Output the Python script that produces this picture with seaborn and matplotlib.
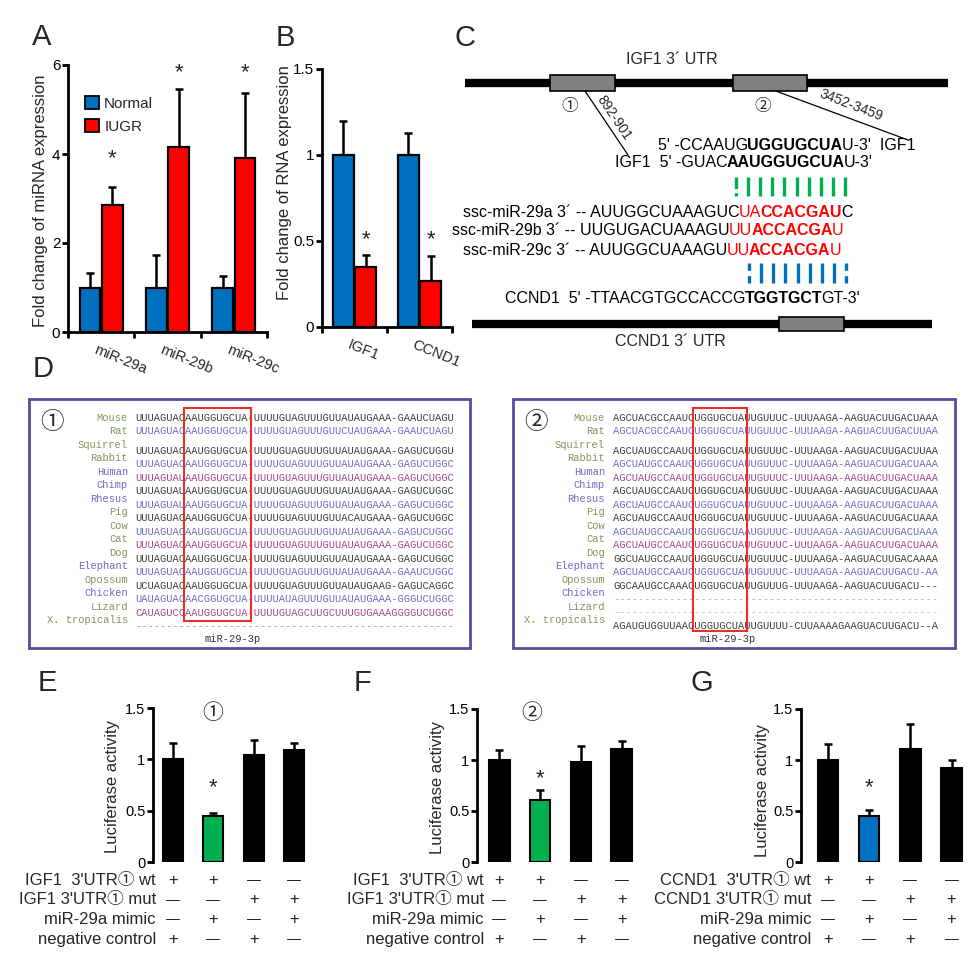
import numpy as np
import pandas as pd
import matplotlib
matplotlib.use("Agg")
import matplotlib.pyplot as plt
import matplotlib.transforms as mtransforms
from matplotlib.patches import Rectangle, Patch
import seaborn as sns

sns.set_style("ticks")
plt.rcParams["font.family"] = ["Liberation Sans", "Noto Sans CJK SC", "DejaVu Sans"]

# ---------------- data ----------------
mirnas = ["miR-29a", "miR-29b", "miR-29c"]
groups = ["Normal", "IUGR"]
mirna_normal = [1.0, 1.0, 1.0]
mirna_normal_err = [0.32, 0.72, 0.25]
mirna_iugr = [2.85, 4.15, 3.92]
mirna_iugr_err = [0.40, 1.32, 1.45]

genes = ["IGF1", "CCND1"]
rna_normal = [1.0, 1.0]
rna_normal_err = [0.20, 0.13]
rna_iugr = [0.35, 0.27]
rna_iugr_err = [0.07, 0.14]

luc_conditions = ["c1", "c2", "c3", "c4"]
lucE = [1.00, 0.45, 1.04, 1.09]
lucE_err = [0.16, 0.03, 0.15, 0.07]
lucF = [1.00, 0.61, 0.98, 1.11]
lucF_err = [0.10, 0.10, 0.16, 0.08]
lucG = [1.00, 0.45, 1.11, 0.92]
lucG_err = [0.16, 0.06, 0.24, 0.08]

rowsE = ["IGF1  3'UTR\u2460 wt", "IGF1 3'UTR\u2460 mut", "miR-29a mimic", "negative control"]
rowsG = ["CCND1  3'UTR\u2460 wt", "CCND1 3'UTR\u2460 mut", "miR-29a mimic", "negative control"]
row_signs = [["+", "+", "\u2014", "\u2014"],
             ["\u2014", "\u2014", "+", "+"],
             ["\u2014", "+", "\u2014", "+"],
             ["+", "\u2014", "+", "\u2014"]]

species = ["Mouse", "Rat", "Squirrel", "Rabbit", "Human", "Chimp", "Rhesus", "Pig",
           "Cow", "Cat", "Dog", "Elephant", "Opossum", "Chicken", "Lizard", "X. tropicalis"]
label_kind = ["g", "g", "g", "g", "b", "b", "b", "g", "g", "g", "g", "b", "g", "b", "g", "g"]
seq_kind1 = ["d", "b", "d", "b", "m", "d", "b", "d", "b", "m", "d", "b", "d", "b", "m", "x"]
seq_kind2 = ["d", "b", "d", "b", "m", "d", "b", "d", "b", "m", "d", "b", "d", "lb", "lm", "d"]
site1 = [
    "UUUAGUACAAUGGUGCUA-UUUUGUAGUUUGUUAUAUGAAA-GAAUCUAGU",
    "UUUAGUACAAUGGUGCUA-UUUUGUAGUUUGUUCUAUGAAA-GAAUCUAGU",
    "UUUAGUACAAUGGUGCUA-UUUUGUAGUUUGUUAUAUGAAA-GAGUCUGGU",
    "UUUAGUACAAUGGUGCUA-UUUUGUAGUUUGUUAUAUGAAA-GAGUCUGGC",
    "UUUAGUAUAAUGGUGCUA-UUUUGUAGUUUGUUAUAUGAAA-GAGUCUGGC",
    "UUUAGUAUAAUGGUGCUA-UUUUGUAGUUUGUUAUAUGAAA-GAGUCUGGC",
    "UUUAGUAUAAUGGUGCUA-UUUUGUAGUUUGUUAUAUGAAA-GAGUCUGGC",
    "UUUAGUACAAUGGUGCUA-UUUUGUAGUUUGUUACAUGAAA-GAGUCUGGC",
    "UUUAGUACAAUGGUGCUA-UUUUGUAGUUUGUUAUAUGAAA-GAGUCUGGC",
    "UUUAGUACAAUGGUGCUA-UUUUGUAGUUUGUUAUAUGAAA-GAGUCUGGC",
    "UUUAGUACAAUGGUGCUA-UUUUGUAGUUUGUUAUAUGAAA-GAGUCUGGC",
    "UUUAGUACAAUGGUGCUA-UUUUGUAGUUUGUUAUAUGAAA-GAAUCUGGC",
    "UCUAGUACAAUGGUGCUA-UUUUGUAGUUUGUUAUAUGAAG-GAGUCAGGC",
    "UAUAGUACAACGGUGCUA-UUUUAUAGUUUGUUAUAUGAAA-GGGUCUGGC",
    "CAUAGUCCAAUGGUGCUA-UUUUGUAGCUUGCUUUGUGAAAGGGGUCUGGC",
    "---------------------------------------------------",
]
site2 = [
    "AGCUACGCCAAUCUGGUGCUAUUGUUUC-UUUAAGA-AAGUACUUGACUAAA",
    "AGCUACGCCAAUCUGGUGCUAUUGUUUC-UUUAAGA-AAGUACUUGACUUAA",
    "AGCUAUGCCAAUCUGGUGCUAUUGUUUC-UUUAAGA-AAGUACUUGACUUAA",
    "AGCUAUGCCAAUCUGGUGCUAUUGUUUC-UUUAAGA-AAGUACUUGACUAAA",
    "AGCUAUGCCAAUCUGGUGCUAUUGUUUC-UUUAAGA-AAGUACUUGACUAAA",
    "AGCUAUGCCAAUCUGGUGCUAUUGUUUC-UUUAAGA-AAGUACUUGACUAAA",
    "AGCUAUGCCAAUCUGGUGCUAUUGUUUC-UUUAAGA-AAGUACUUGACUAAA",
    "AGCUAUGCCAAUCUGGUGCUAUUGUUUC-UUUAAGA-AAGUACUUGACUAAA",
    "AGCUAUGCCAAUCUGGUGCUAAUGUUUC-UUUAAGA-AAGUACUUGACUAAA",
    "AGCUAUGCCAAUCUGGUGCUAUUGUUUC-UUUAAGA-AAGUACUUGACUAAA",
    "GGCUAUGCCAAUCUGGUGCUAUUGUUUC-UUUAAGA-AAGUACUUGACAAAA",
    "AGCUAUGCCAAUCUGGUGCUAUUGUUUC-UUUAAGA-AAGUACUUGACU-AA",
    "GGCAAUGCCAAACUGGUGCUAUUGUUUG-UUUAAGA-AAGUACUUGACU---",
    "----------------------------------------------------",
    "----------------------------------------------------",
    "AGAUGUGGUUAACUGGUGCUAUUGUUUU-CUUAAAAGAAGUACUUGACU--A",
]

BLUE = "#0070C0"
RED = "#FF0000"
GREEN = "#00B050"
LAB = {"g": "#7e9660", "b": "#6b6bc4"}
SEQ = {"d": "#3c3c3c", "b": "#6b6bc4", "m": "#a2478f", "x": "#9a9a9a",
       "lb": "#a9a9dd", "lm": "#d9a9d2"}

W, H = 977, 964
fig = plt.figure(figsize=(W / 100, H / 100), dpi=100)

ov = fig.add_axes([0, 0, 1, 1])
ov.set_xlim(0, W)
ov.set_ylim(H, 0)
ov.axis("off")


def rect(l, t, r, b):
    return [l / W, 1 - b / H, (r - l) / W, (b - t) / H]


def style_axes(ax, labelsize):
    ax.patch.set_visible(False)
    for s in ["top", "right"]:
        ax.spines[s].set_visible(False)
    for s in ["left", "bottom"]:
        ax.spines[s].set_linewidth(2)
        ax.spines[s].set_color("black")
    ax.tick_params(axis="both", which="major", width=2, length=4, pad=1.5, direction="out",
                   labelsize=labelsize, colors="black")
    ax.set_xlabel("")


def add_errs(ax, vals, errs):
    for p, v, e in zip(ax.patches, vals, errs):
        cx = p.get_x() + p.get_width() / 2
        ax.errorbar(cx, v, yerr=[[0], [e]], fmt="none", ecolor="black",
                    elinewidth=1.8, capsize=3.2, capthick=1.8, zorder=1)


def grouped(ax, cats, normal, nerr, iugr, ierr, ylim, ticks, ticklabels, ylabel, lx, ly):
    df = pd.DataFrame({"cat": cats * 2,
                       "group": ["Normal"] * len(cats) + ["IUGR"] * len(cats),
                       "val": normal + iugr})
    sns.barplot(data=df, x="cat", y="val", hue="group", hue_order=groups,
                palette=[BLUE, RED], saturation=1, width=0.68, gap=0.08, edgecolor="black",
                linewidth=1.6, legend=False, errorbar=None, ax=ax, zorder=2)
    add_errs(ax, normal + iugr, nerr + ierr)
    n = len(cats)
    ax.set_xlim(-0.5, n - 0.5)
    ax.set_ylim(*ylim)
    style_axes(ax, 11)
    ax.set_yticks(ticks, ticklabels)
    ax.set_xticks([i - 0.5 for i in range(n + 1)], [""] * (n + 1))
    ax.set_xticks([i - 0.06 for i in range(n)], cats, minor=True, rotation=-22,
                  ha="left", va="top", rotation_mode="anchor", fontsize=10.5)
    ax.tick_params(axis="x", which="minor", length=0, pad=8)
    ax.set_ylabel(ylabel, fontsize=12, va="center")
    ax.yaxis.set_label_coords(lx, ly)


# ---------------- Panel A ----------------
axA = fig.add_axes(rect(68, 65, 267, 332))
grouped(axA, mirnas, mirna_normal, mirna_normal_err, mirna_iugr, mirna_iugr_err,
        (0, 6), [0, 2, 4, 6], ["0", "2", "4", "6"],
        "Fold change of miRNA expression", -0.14, 0.49)
for p, v in zip(axA.patches[3:6], mirna_iugr):
    ys = 3.9 if v < 3 else 5.82
    axA.text(p.get_x() + p.get_width() / 2, ys, "*", ha="center", va="center", fontsize=16)
axA.legend(handles=[Patch(facecolor=BLUE, edgecolor="black", lw=1.3, label="Normal"),
                    Patch(facecolor=RED, edgecolor="black", lw=1.3, label="IUGR")],
           loc="upper left", bbox_to_anchor=(0.055, 0.905), frameon=False,
           handlelength=0.9, handleheight=0.9, handletextpad=0.35, labelspacing=0.55,
           fontsize=11, borderaxespad=0)

# ---------------- Panel B ----------------
axB = fig.add_axes(rect(322, 69, 452, 327))
grouped(axB, genes, rna_normal, rna_normal_err, rna_iugr, rna_iugr_err,
        (0, 1.5), [0, 0.5, 1, 1.5], ["0", "0.5", "1", "1.5"],
        "Fold change of RNA expression", -0.285, 0.56)
for p in axB.patches[2:4]:
    axB.text(p.get_x() + p.get_width() / 2, 0.51, "*", ha="center", va="center", fontsize=16)


# ---------------- Panels E, F, G ----------------
def luc(ax, vals, errs, colors, xlim, lx, ly, star_y):
    df = pd.DataFrame({"cond": luc_conditions, "val": vals})
    sns.barplot(data=df, x="cond", y="val", hue="cond", palette=colors, saturation=1,
                width=0.5, edgecolor="black", linewidth=1.5, legend=False, errorbar=None,
                ax=ax, zorder=2)
    add_errs(ax, vals, errs)
    ax.set_xlim(*xlim)
    ax.set_ylim(0, 1.5)
    style_axes(ax, 10.5)
    ax.spines["bottom"].set_visible(False)
    ax.set_xticks([])
    ax.set_yticks([0, 0.5, 1, 1.5], ["0", "0.5", "1", "1.5"])
    ax.set_ylabel("Luciferase activity", fontsize=12, va="center")
    ax.yaxis.set_label_coords(lx, ly)
    ax.text(1, star_y, "*", ha="center", va="center", fontsize=16)


def table(ax, labels, label_x):
    tr = mtransforms.blended_transform_factory(ax.transData, ov.transData)
    for r, (lab, signs) in enumerate(zip(labels, row_signs)):
        y = 880 + 19.7 * r
        ov.text(label_x, y, lab, ha="right", va="center", fontsize=12)
        for i, s in enumerate(signs):
            ax.text(i, y, s, transform=tr, ha="center", va="center",
                    fontsize=12 if s == "+" else 10, color="#222222", clip_on=False)


axE = fig.add_axes(rect(153, 708, 315, 862))
luc(axE, lucE, lucE_err, ["black", GREEN, "black", "black"], (-0.49, 3.51), -0.25, 0.49, 0.72)
table(axE, rowsE, 156)

axF = fig.add_axes(rect(477, 709, 640, 862))
luc(axF, lucF, lucF_err, ["black", GREEN, "black", "black"], (-0.55, 3.45), -0.245, 0.49, 0.82)
table(axF, rowsE, 484)

axG = fig.add_axes(rect(801, 709, 966, 862))
luc(axG, lucG, lucG_err, ["black", BLUE, "black", "black"], (-0.65, 3.35), -0.235, 0.47, 0.73)
table(axG, rowsG, 811)

ov.text(213, 713, "\u2460", ha="center", va="center", fontsize=15)
ov.text(532, 713, "\u2461", ha="center", va="center", fontsize=15)

# ---------------- Panel letters ----------------
for s, x, y in [("A", 42, 37), ("B", 285, 38), ("C", 465, 38), ("D", 43, 369),
                ("E", 47, 683), ("F", 363, 683), ("G", 702, 683)]:
    ov.text(x, y, s, ha="center", va="center", fontsize=21)

# ---------------- Panel C diagram ----------------
renderer = fig.canvas.get_renderer()


def rainbow(x, y, pieces, size=11.5):
    t = ov.transData
    for s, c, w in pieces:
        txt = ov.text(x, y, s, color=c, fontweight=w, fontsize=size, transform=t,
                      ha="left", va="baseline")
        ex = txt.get_window_extent(renderer=renderer)
        t = mtransforms.offset_copy(txt.get_transform(), x=ex.width - 0.8, units="dots")


K = "black"
ov.plot([465, 948], [83, 83], color="black", lw=6, solid_capstyle="butt", zorder=2)
ov.add_patch(Rectangle((550, 75), 65, 16, fc="#808080", ec="black", lw=1.2, zorder=3))
ov.add_patch(Rectangle((733, 75), 74, 16, fc="#808080", ec="black", lw=1.2, zorder=3))
ov.text(672, 60, "IGF1 3\u00b4 UTR", ha="center", va="center", fontsize=11.5)
ov.text(570, 107, "\u2460", ha="center", va="center", fontsize=12)
ov.text(763, 107, "\u2461", ha="center", va="center", fontsize=12)
ov.plot([585, 628], [91, 155], color="black", lw=0.9)
ov.plot([773, 908], [90, 140], color="black", lw=0.9)
ov.text(614, 118, "892-901", rotation=-56, ha="center", va="center", fontsize=10,
        rotation_mode="anchor")
ov.text(851, 105, "3452-3459", rotation=-21, ha="center", va="center", fontsize=10,
        rotation_mode="anchor")

rainbow(658, 150, [("5' -CCAAUG", K, "normal"), ("UGGUGCUA", K, "bold"), ("U-3'  IGF1", K, "normal")])
rainbow(615, 167, [("IGF1  5' -GUAC", K, "normal"), ("AAUGGUGCUA", K, "bold"), ("U-3'", K, "normal")])

for i, x in enumerate(np.linspace(736, 845, 10)):
    ov.plot([x, x], [177, 196], color=GREEN, lw=2.4,
            ls=(0, (3.5, 1.2)) if i == 0 else "-", solid_capstyle="butt")

rainbow(463, 217, [("ssc-miR-29a 3\u00b4 -- AUUGGCUAAAGUC", K, "normal"), ("UA", RED, "normal"),
                   ("CCACGAU", RED, "bold"), ("C", K, "normal")])
rainbow(452, 235, [("ssc-miR-29b 3\u00b4 -- UUGUGACUAAAGU", K, "normal"), ("UU", RED, "normal"),
                   ("ACCACGA", RED, "bold"), ("U", RED, "normal")])
rainbow(463, 255, [("ssc-miR-29c 3\u00b4 -- AUUGGCUAAAGU", K, "normal"), ("UU", RED, "normal"),
                   ("ACCACGA", RED, "bold"), ("U", RED, "normal")])

bx = np.linspace(749, 846, 9)
for i, x in enumerate(bx):
    dotted = i in (0, len(bx) - 1)
    ov.plot([x, x], [263, 283], color=BLUE, lw=2.4,
            ls=(0, (2.2, 1.6)) if dotted else "-", solid_capstyle="butt")

rainbow(505, 303, [("CCND1  5' -TTAACGTGCCACCG", K, "normal"), ("TGGTGCT", K, "bold"),
                   ("GT-3'", K, "normal")])
ov.plot([472, 932], [324, 324], color="black", lw=6, solid_capstyle="butt", zorder=2)
ov.add_patch(Rectangle((779, 317), 65, 14, fc="#808080", ec="black", lw=1.2, zorder=3))
ov.text(670, 342, "CCND1 3\u00b4 UTR", ha="center", va="center", fontsize=11.5)

# ---------------- Panel D alignments ----------------
MONO = "Liberation Mono"
label_y = [418 + 13.47 * i for i in range(len(species))]
seq_y = [418, 431.5] + [451 + 13.46 * i for i in range(len(species) - 2)]


def alignment(x0, x1, lab_x, seq_x, seqs, kinds, red_box, mark, text_x):
    ov.add_patch(Rectangle((x0, 399), x1 - x0, 249, fill=False, ec="#5a4a9c", lw=2, zorder=1))
    ov.text(x0 + 23, 423, mark, ha="center", va="center", fontsize=17)
    for sp, lk, sq, kk, ly, sy in zip(species, label_kind, seqs, kinds, label_y, seq_y):
        ov.text(lab_x, ly, sp, ha="right", va="center", family=MONO, fontsize=7.5, color=LAB[lk])
        ov.text(seq_x, sy, sq, ha="left", va="center", family=MONO, fontsize=7.5, color=SEQ[kk])
    rx0, rx1, ry0, ry1 = red_box
    ov.add_patch(Rectangle((rx0, ry0), rx1 - rx0, ry1 - ry0, fill=False, ec="#e8302a", lw=1.5, zorder=4))
    ov.text(text_x, 639, "miR-29-3p", ha="center", va="center", family=MONO, fontsize=7.5, color="#333333")


alignment(29, 470, 128, 135, site1, seq_kind1, (184, 251, 408, 621), "\u2460", 233)
alignment(513, 955, 605, 613, site2, seq_kind2, (693, 747, 408, 631), "\u2461", 728)

fig.savefig("out.png", dpi=100)
